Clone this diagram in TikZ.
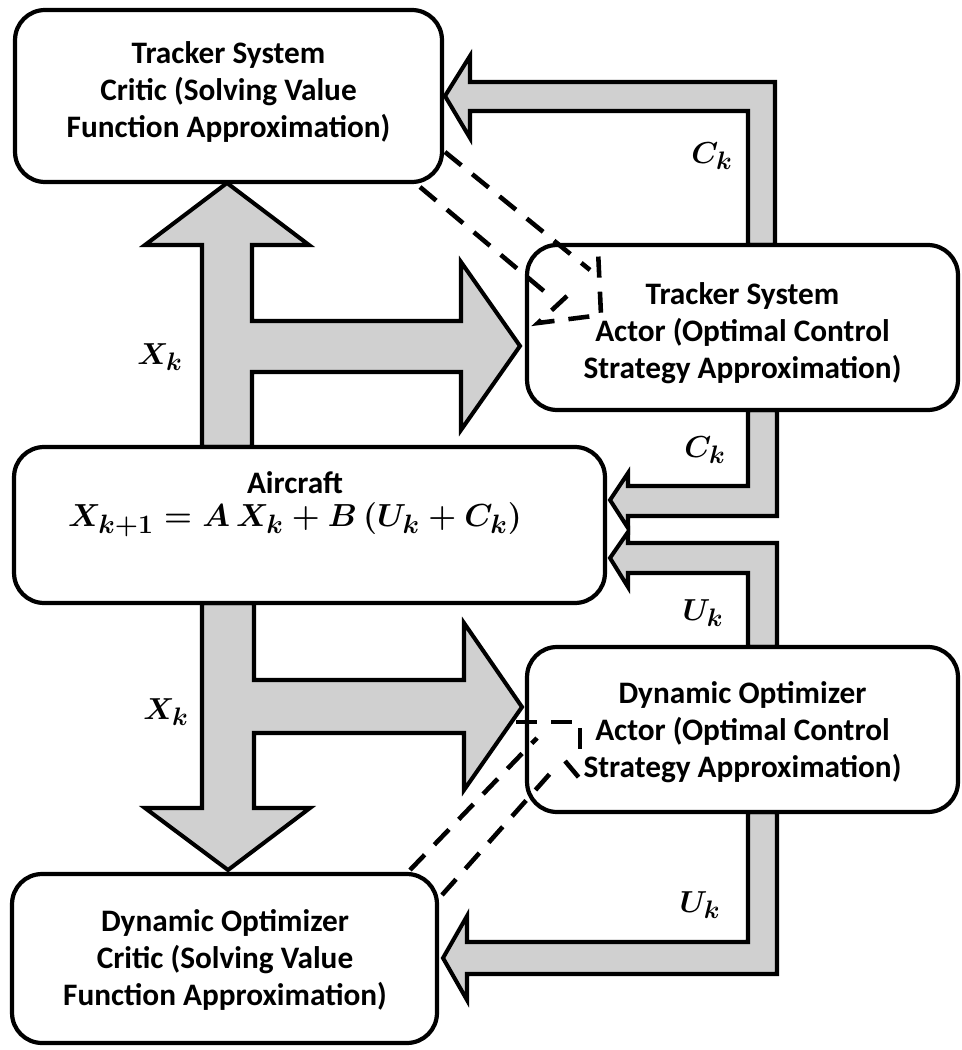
\documentclass[tikz,border=0pt]{standalone}
\usepackage{fontspec}
\usepackage{graphicx}
\setmainfont{Carlito}
\definecolor{arrowgray}{RGB}{208,208,208}
\begin{document}
\begin{tikzpicture}[x=0.02cm,y=-0.02cm,
  box/.style={draw, line width=2.4pt, rounded corners=0.6cm, fill=white, align=center,
    font=\fontsize{17.8}{21}\selectfont\bfseries, inner sep=0pt},
  txt/.style={align=center, font=\fontsize{17.8}{21}\selectfont\bfseries, inner sep=0pt},
  fat/.style={draw, line width=2.3pt, fill=arrowgray, line join=miter},
  dsh/.style={line width=2.6pt, dash pattern=on 12pt off 8pt},
  lab/.style={font=\fontsize{19}{21}\selectfont\boldmath}
]
\useasboundingbox (0,0) rectangle (962,1050);

% fat arrows
\filldraw[fat] (202,447) -- (202,245) -- (145,245) -- (227,183) -- (309,245) -- (252,245)
  -- (252,321) -- (461,321) -- (461,262) -- (520,346) -- (461,430) -- (461,372)
  -- (252,372) -- (252,447) -- cycle;
\filldraw[fat] (202,603) -- (202,808) -- (145,808) -- (228,870) -- (310,808) -- (254,808)
  -- (254,733) -- (464,733) -- (464,790) -- (522,707) -- (464,623) -- (464,680)
  -- (254,680) -- (254,603) -- cycle;
\filldraw[fat] (775,245) -- (775,82) -- (470,82) -- (470,56) -- (445,96) -- (470,138)
  -- (470,111) -- (748,111) -- (748,245) -- cycle;
\filldraw[fat] (777,410) -- (777,516) -- (628,516) -- (628,528) -- (610,500) -- (628,473)
  -- (628,486) -- (748,486) -- (748,410) -- cycle;
\filldraw[fat] (777,647) -- (777,543) -- (628,543) -- (628,532) -- (610,558) -- (628,587)
  -- (628,573) -- (748,573) -- (748,647) -- cycle;
\filldraw[fat] (777,812) -- (777,974) -- (467,974) -- (467,1000) -- (443,958) -- (467,916)
  -- (467,942) -- (748,942) -- (748,812) -- cycle;

% boxes
\node[box, minimum width=8.54cm, minimum height=3.44cm] (tc) at (228.5,96) {};
\node[txt] (tct) at (228.5,92)
  {Tracker System\\Critic (Solving Value\\Function Approximation)};
\node[box, minimum width=8.62cm, minimum height=3.3cm] (ta) at (742.5,327.5) {};
\node[txt] (tat) at (742.5,333)
  {Tracker System\\Actor (Optimal Control\\Strategy Approximation)};
\node[box, minimum width=11.82cm, minimum height=3.12cm] (ac) at (309.5,525) {};
\node[txt] (act) at (295,504)
  {Aircraft\\[-2pt]\scalebox{1.05}{\fontsize{19}{21}\selectfont\boldmath$X_{k+1}=A\,X_k+B\,(U_k+C_k)$}};
\node[box, minimum width=8.62cm, minimum height=3.3cm] (da) at (742.5,729.5) {};
\node[txt] (dat) at (742.5,732)
  {Dynamic Optimizer\\Actor (Optimal Control\\Strategy Approximation)};
\node[box, minimum width=8.5cm, minimum height=3.38cm] (dc) at (224.5,958.5) {};
\node[txt] (dct) at (225,960)
  {Dynamic Optimizer\\Critic (Solving Value\\Function Approximation)};

% labels
\node[lab] (l1) at (712,156) {$C_k$};
\node[lab] (l2) at (705,450) {$C_k$};
\node[lab] (l3) at (703,613) {$U_k$};
\node[lab] (l4) at (700,905) {$U_k$};
\node[lab] (l5) at (160,357) {$X_k$};
\node[lab] (l6) at (166,712) {$X_k$};

% dashed links
\draw[dsh] (445,152) -- (590,270);
\draw[dsh] (420,187) -- (545,292);
\draw[dsh] (567,296) -- (538,323) -- (601,315) -- (598,250);
\draw[dsh] (410,870) -- (537,738);
\draw[dsh] (442,895) -- (555,768);
\draw[dsh] (516,722) -- (580,722) -- (580,762);
\draw[dsh] (565,761) -- (586,786);
\end{tikzpicture}
\end{document}
